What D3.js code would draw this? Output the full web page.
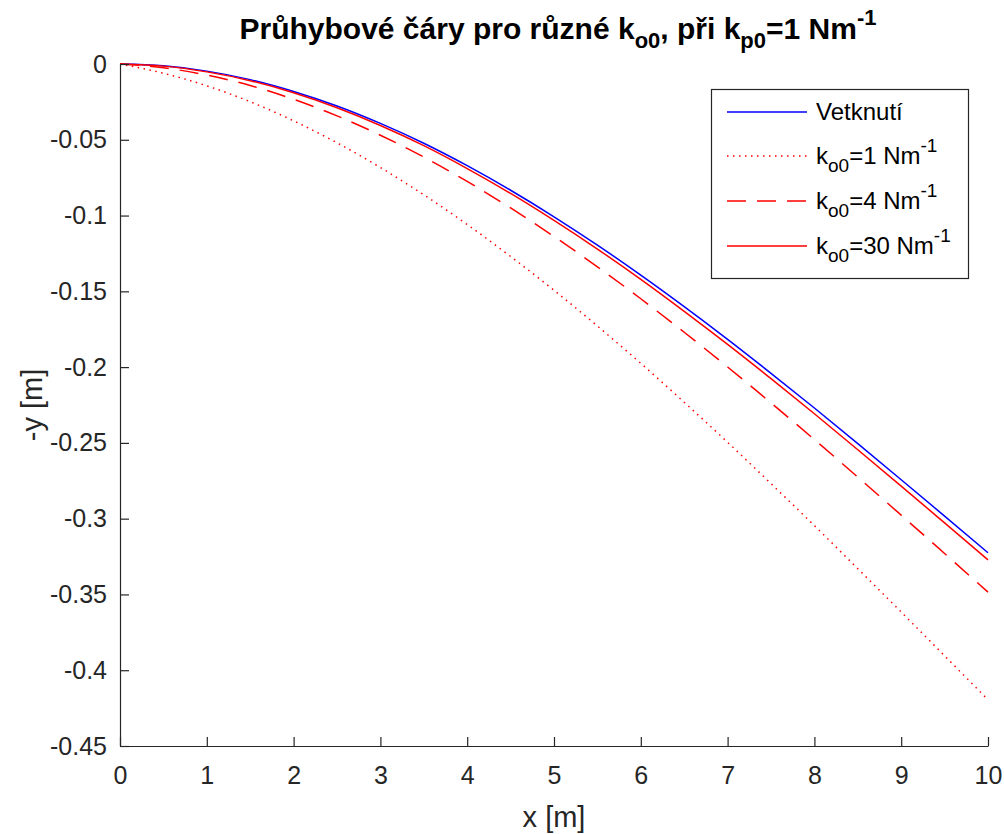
<!DOCTYPE html>
<html lang="cs">
<head>
<meta charset="UTF-8">
<title>Průhybové čáry</title>
<script src="https://d3js.org/d3.v7.min.js"></script>
<style>
  body { margin: 0; background: #fff; }
  text { font-family: "Liberation Sans", Arial, sans-serif; fill: #262626; }
</style>
</head>
<body>
<script>
// x positions [m]
const xVals = [0, 0.5, 1, 1.5, 2, 2.5, 3, 3.5, 4, 4.5, 5, 5.5, 6, 6.5, 7, 7.5, 8, 8.5, 9, 9.5, 10];
// deflection -y [m]
const vetknuti = [0, -0.0012, -0.0047, -0.0103, -0.0181, -0.0277, -0.0392, -0.0523, -0.0671, -0.0833, -0.1008,
  -0.1195, -0.1393, -0.1601, -0.1817, -0.2041, -0.2270, -0.2505, -0.2743, -0.2983, -0.3225];
const ko1 = [0, -0.0061, -0.0144, -0.0249, -0.0375, -0.0520, -0.0683, -0.0863, -0.1059, -0.1270, -0.1493,
  -0.1729, -0.1975, -0.2232, -0.2496, -0.2769, -0.3046, -0.3330, -0.3616, -0.3905, -0.4195];
const ko4 = [0, -0.0025, -0.0073, -0.0142, -0.0233, -0.0342, -0.0470, -0.0614, -0.0775, -0.0950, -0.1138,
  -0.1338, -0.1549, -0.1770, -0.1999, -0.2236, -0.2478, -0.2726, -0.2977, -0.3230, -0.3485];
const ko30 = [0, -0.0014, -0.0052, -0.0110, -0.0190, -0.0289, -0.0406, -0.0539, -0.0690, -0.0854, -0.1032,
  -0.1221, -0.1421, -0.1632, -0.1850, -0.2076, -0.2308, -0.2545, -0.2785, -0.3028, -0.3272];

const xTicks = [0, 1, 2, 3, 4, 5, 6, 7, 8, 9, 10];
const yTicks = [0, -0.05, -0.1, -0.15, -0.2, -0.25, -0.3, -0.35, -0.4, -0.45];

const series = [
  { name: "Vetknutí", k: null, values: vetknuti, color: "#0000ff", dash: null },
  { name: "k", k: "1", values: ko1, color: "#ff0000", dash: "1.5,4.5" },
  { name: "k", k: "4", values: ko4, color: "#ff0000", dash: "19,11" },
  { name: "k", k: "30", values: ko30, color: "#ff0000", dash: null }
];

const W = 1004, H = 834;
const pLeft = 120, pRight = 988, pTop = 64, pBottom = 746;

const svg = d3.select("body").append("svg")
  .attr("width", W).attr("height", H);

const x = d3.scaleLinear().domain([0, 10]).range([pLeft, pRight]);
const y = d3.scaleLinear().domain([-0.45, 0]).range([pBottom, pTop]);

// curves
const line = d3.line()
  .x((d, i) => x(xVals[i]))
  .y(d => y(d))
  .curve(d3.curveMonotoneX);

series.forEach(s => {
  svg.append("path")
    .datum(s.values)
    .attr("fill", "none")
    .attr("stroke", s.color)
    .attr("stroke-width", 1.5)
    .attr("stroke-dasharray", s.dash)
    .attr("d", line);
});

// axes (MATLAB style, ticks inside)
const xAxis = svg.append("g")
  .attr("transform", `translate(0,${pBottom})`)
  .call(d3.axisBottom(x).tickValues(xTicks).tickSizeInner(-9).tickSizeOuter(0).tickPadding(20));
const yAxis = svg.append("g")
  .attr("transform", `translate(${pLeft},0)`)
  .call(d3.axisLeft(y).tickValues(yTicks).tickSizeInner(-9).tickSizeOuter(0).tickPadding(13)
    .tickFormat(d => String(+d.toFixed(2))));

[xAxis, yAxis].forEach(g => {
  g.selectAll("path").attr("stroke", "#262626").attr("stroke-width", 1.2);
  g.selectAll("line").attr("stroke", "#262626").attr("stroke-width", 1.2);
  g.selectAll("text").attr("font-size", 25).attr("fill", "#262626")
    .attr("font-family", "'Liberation Sans', Arial, sans-serif");
});

// axis labels
svg.append("text")
  .attr("x", (pLeft + pRight) / 2).attr("y", 827)
  .attr("text-anchor", "middle").attr("font-size", 29)
  .text("x [m]");
svg.append("text")
  .attr("transform", `translate(42,${(pTop + pBottom) / 2}) rotate(-90)`)
  .attr("text-anchor", "middle").attr("font-size", 29)
  .text("-y [m]");

// title
const title = svg.append("text")
  .attr("x", (pLeft + pRight) / 2 + 4).attr("y", 39)
  .attr("text-anchor", "middle")
  .attr("font-size", 30).attr("font-weight", "bold")
  .style("fill", "#000");
title.append("tspan").text("Průhybové čáry pro různé k");
title.append("tspan").attr("font-size", 22).attr("dy", 9).text("o0");
title.append("tspan").attr("dy", -9).text(", při k");
title.append("tspan").attr("font-size", 22).attr("dy", 9).text("p0");
title.append("tspan").attr("dy", -9).text("=1 Nm");
title.append("tspan").attr("font-size", 22).attr("dy", -14).text("-1");

// legend
const lg = svg.append("g");
lg.append("rect")
  .attr("x", 711.5).attr("y", 89.5).attr("width", 257).attr("height", 189)
  .attr("fill", "#fff").attr("stroke", "#262626").attr("stroke-width", 1.2);

const rowY = [112, 156, 201, 246];
series.forEach((s, i) => {
  const yy = rowY[i];
  lg.append("line")
    .attr("x1", 727).attr("x2", 807).attr("y1", yy).attr("y2", yy)
    .attr("stroke", s.color).attr("stroke-width", 1.5)
    .attr("stroke-dasharray", s.dash);
  const t = lg.append("text")
    .attr("x", 816).attr("y", yy + 8)
    .attr("font-size", 24).style("fill", "#000");
  if (s.k === null) {
    t.text(s.name);
  } else {
    t.append("tspan").text("k");
    t.append("tspan").attr("font-size", 19).attr("dy", 8).text("o0");
    t.append("tspan").attr("dy", -8).text("=" + s.k + " Nm");
    t.append("tspan").attr("font-size", 19).attr("dy", -12).text("-1");
  }
});
</script>
</body>
</html>
